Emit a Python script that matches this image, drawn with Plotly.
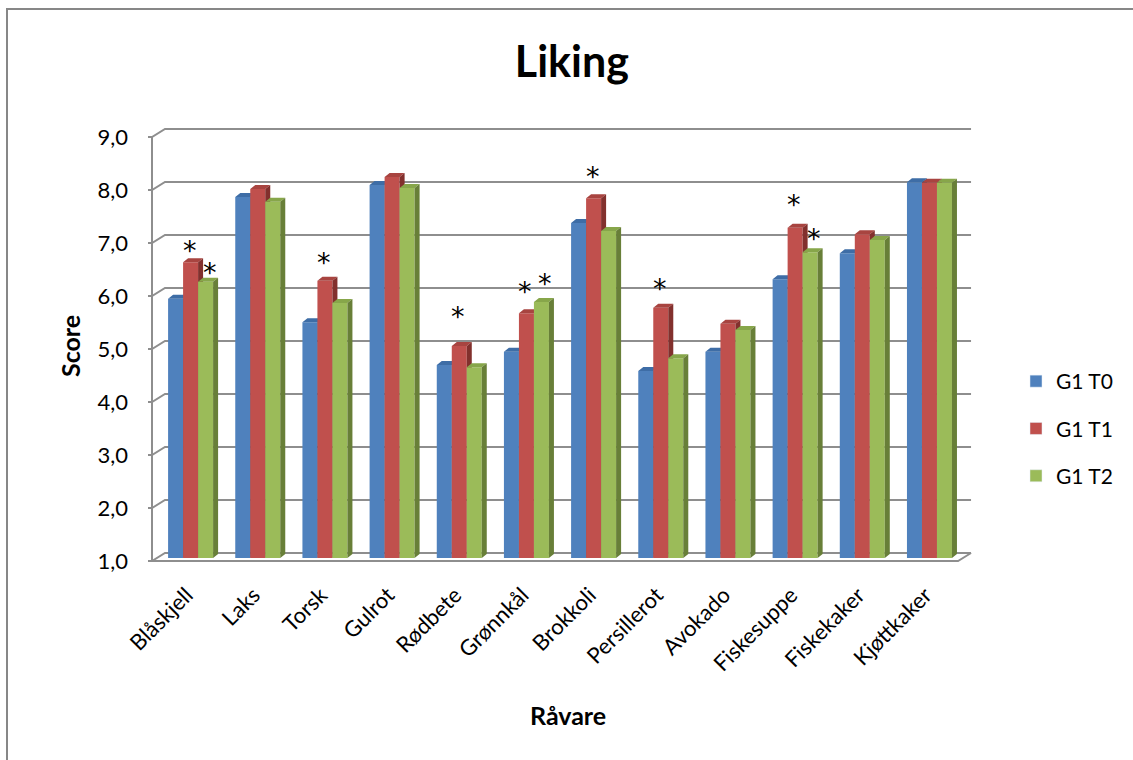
import plotly.graph_objects as go

# ---- data -------------------------------------------------------------
categories = ["Blåskjell", "Laks", "Torsk", "Gulrot", "Rødbete", "Grønnkål",
              "Brokkoli", "Persillerot", "Avokado", "Fiskesuppe", "Fiskekaker",
              "Kjøttkaker"]
series_names = ["G1 T0", "G1 T1", "G1 T2"]
g1_t0 = [5.89, 7.81, 5.45, 8.04, 4.64, 4.89, 7.32, 4.53, 4.89, 6.26, 6.75, 8.09]
g1_t1 = [6.58, 7.96, 6.23, 8.19, 5.00, 5.62, 7.79, 5.72, 5.42, 7.23, 7.11, 8.08]
g1_t2 = [6.21, 7.72, 5.81, 7.98, 4.60, 5.83, 7.17, 4.77, 5.30, 6.77, 7.00, 8.08]
y_tick_values = [1, 2, 3, 4, 5, 6, 7, 8, 9]
y_tick_labels = ["1,0", "2,0", "3,0", "4,0", "5,0", "6,0", "7,0", "8,0", "9,0"]
# categories marked as significant (*) for G1 T1 and G1 T2
significant_t1 = ["Blåskjell", "Torsk", "Rødbete", "Grønnkål", "Brokkoli",
                  "Persillerot", "Fiskesuppe"]
significant_t2 = ["Blåskjell", "Grønnkål", "Fiskesuppe"]

# ---- geometry of the pseudo-3D frame (pixels -> axis units) -----------
W, H = 1133, 760
PX_X = 67.17          # pixels per category
PX_Y = 53.0           # pixels per score unit
PLOT_L, PLOT_R, PLOT_T, PLOT_B = 148, 976, 125, 565
X0 = -0.5 - (152 - PLOT_L) / PX_X
X1 = -0.5 + (PLOT_R - 152) / PX_X
Y0 = 1 - (PLOT_B - 561) / PX_Y
Y1 = 1 + (561 - PLOT_T) / PX_Y

WALL_DX, WALL_DY = 13 / PX_X, 8 / PX_Y      # depth of back wall
BAR_PX, BAR_PY = 5 / PX_X, 3 / PX_Y         # bars sit mid-depth
BAR_W = 15 / PX_X
CAP_DX, CAP_DY = 5 / PX_X, 4 / PX_Y         # bar top/side depth
TICK_LEN = 7 / PX_X
LABEL_NUDGE = 4 / PX_X

front_cols = ["#4F81BD", "#C0504D", "#9BBB59"]
top_cols = ["#3E6DA6", "#A84440", "#87A64A"]
side_cols = ["#2F5281", "#82302D", "#687F38"]
grid_col = "#8E8E8E"
FONT = "Lato"

values = [g1_t0, g1_t1, g1_t2]
n = len(categories)

fig = go.Figure()

# legend entries
for s, name in enumerate(series_names):
    fig.add_trace(go.Bar(x=[None], y=[None], name=name, marker_color=front_cols[s],
                         legendgroup=name))

# back wall grid lines, left-wall diagonals, ticks, front axis and floor edge
gx, gy = [], []
for v in y_tick_values:
    gx += [-0.5 - TICK_LEN, -0.5, -0.5 + WALL_DX, n - 0.5 + WALL_DX, None]
    gy += [v, v, v + WALL_DY, v + WALL_DY, None]
gx += [-0.5, -0.5, None, -0.5, n - 0.5, n - 0.5 + WALL_DX, None]
gy += [y_tick_values[-1], y_tick_values[0], None, 1, 1, 1 + WALL_DY, None]
fig.add_trace(go.Scatter(x=gx, y=gy, mode="lines", showlegend=False, hoverinfo="skip",
                         line=dict(color=grid_col, width=2)))


def bar_box(i, s):
    left = i + BAR_PX - 1.5 * BAR_W + s * BAR_W
    return left, left + BAR_W


# bars: front, top and side faces per series
for s in range(3):
    fx, fy, tx, ty, sx, sy = [], [], [], [], [], []
    for i, v in enumerate(values[s]):
        xl, xr = bar_box(i, s)
        yb = 1 + BAR_PY
        yt = v + BAR_PY
        fx += [xl, xr, xr, xl, xl, None]
        fy += [yb, yb, yt, yt, yb, None]
        tx += [xl, xr, xr + CAP_DX, xl + CAP_DX, xl, None]
        ty += [yt, yt, yt + CAP_DY, yt + CAP_DY, yt, None]
        sx += [xr, xr + CAP_DX, xr + CAP_DX, xr, xr, None]
        sy += [yb, yb + CAP_DY, yt + CAP_DY, yt, yb, None]
    for px, py, col in ((fx, fy, front_cols[s]), (tx, ty, top_cols[s]), (sx, sy, side_cols[s])):
        fig.add_trace(go.Scatter(x=px, y=py, mode="lines", fill="toself", fillcolor=col,
                                 line=dict(width=0, color=col), showlegend=False,
                                 hoverinfo="skip"))

# significance asterisks (pixel lift above the bar top)
star_lift = {(1, "Blåskjell"): 15, (2, "Blåskjell"): 12, (1, "Torsk"): 21,
             (1, "Rødbete"): 33, (1, "Grønnkål"): 25, (2, "Grønnkål"): 22,
             (1, "Brokkoli"): 25, (1, "Persillerot"): 22, (1, "Fiskesuppe"): 26,
             (2, "Fiskesuppe"): 17}
annotations = []
for s, cats in ((1, significant_t1), (2, significant_t2)):
    for c in cats:
        i = categories.index(c)
        xl, xr = bar_box(i, s)
        annotations.append(dict(
            x=(xl + xr) / 2, y=values[s][i] + BAR_PY, xref="x", yref="y",
            text="*", showarrow=False, yanchor="middle",
            xshift=(-1 if s == 1 else 4), yshift=star_lift[(s, c)] - 3,
            font=dict(family="DejaVu Sans", size=27, color="black")))

# titles
annotations.append(dict(text="<b>Score</b>", textangle=-90, x=70, y=346,
                        xanchor="center", yanchor="middle", showarrow=False,
                        font=dict(family=FONT, size=25, color="black")))
annotations.append(dict(text="<b>Råvare</b>", x=568, y=715,
                        xanchor="center", yanchor="middle", showarrow=False,
                        font=dict(family=FONT, size=25, color="black")))


def to_paper(a):
    # convert pixel placement of the two axis titles to paper coords
    if a.get("xref") == "x":
        return a
    a["xref"], a["yref"] = "paper", "paper"
    a["x"] = (a["x"] - PLOT_L) / (PLOT_R - PLOT_L)
    a["y"] = (PLOT_B - a["y"]) / (PLOT_B - PLOT_T)
    return a


annotations = [to_paper(a) for a in annotations]

fig.update_layout(
    width=W, height=H,
    margin=dict(l=PLOT_L, r=W - PLOT_R, t=PLOT_T, b=H - PLOT_B, pad=0),
    paper_bgcolor="white", plot_bgcolor="white",
    title=dict(text="<b>Liking</b>", x=580 / W, xanchor="center",
               y=1 - 62 / H, yanchor="middle", xref="paper",
               font=dict(family=FONT, size=43, color="black")),
    xaxis=dict(range=[X0, X1], tickmode="array",
               tickvals=[i + BAR_PX - LABEL_NUDGE for i in range(n)], ticktext=categories,
               tickangle=-45, showgrid=False, zeroline=False, showline=False,
               ticks="", ticklabelstandoff=12,
               tickfont=dict(family=FONT, size=22, color="black"),
               fixedrange=True),
    yaxis=dict(range=[Y0, Y1], tickmode="array", tickvals=y_tick_values,
               ticktext=y_tick_labels, showgrid=False, zeroline=False,
               showline=False, ticks="", ticklabelstandoff=19,
               tickfont=dict(family=FONT, size=22, color="black"),
               fixedrange=True),
    legend=dict(x=(1016 - PLOT_L) / (PLOT_R - PLOT_L), y=(PLOT_B - 361) / (PLOT_B - PLOT_T),
                xanchor="left", yanchor="top", tracegroupgap=17,
                font=dict(family=FONT, size=21, color="black"),
                bgcolor="rgba(0,0,0,0)"),
    annotations=annotations,
    showlegend=True,
    shapes=[dict(type="rect", xref="paper", yref="paper",
                 x0=(7 - PLOT_L) / (PLOT_R - PLOT_L), x1=(W + 10 - PLOT_L) / (PLOT_R - PLOT_L),
                 y0=(PLOT_B - (H + 10)) / (PLOT_B - PLOT_T), y1=(PLOT_B - 9) / (PLOT_B - PLOT_T),
                 line=dict(color="#878787", width=2), layer="below")],
)

fig.write_html("out.html")
